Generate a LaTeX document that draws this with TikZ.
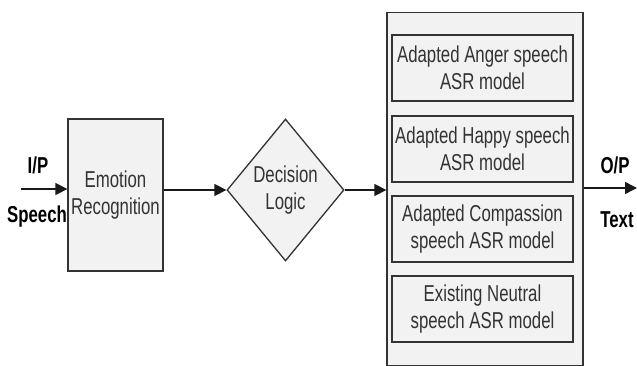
\documentclass[tikz,border=0pt]{standalone}
\usepackage{fontspec}
\setmainfont{Liberation Sans}[FakeStretch=0.73]
\usetikzlibrary{arrows.meta,shapes.geometric}
\definecolor{boxfill}{HTML}{F2F2F2}
\definecolor{edge}{HTML}{333333}
\tikzset{
  blockbox/.style={draw=edge,fill=boxfill,line width=1.3pt,inner sep=0pt,align=center,font=\fontsize{23}{27}\selectfont,text=black!80},
  modelbox/.style={blockbox,minimum width=181pt,minimum height=66pt},
  flow/.style={draw=black!90,line width=1.5pt,-{Triangle[length=12pt,width=12pt]}},
  iolabel/.style={font=\bfseries\fontsize{23}{24}\selectfont,inner sep=0pt}
}
\begin{document}
\begin{tikzpicture}[x=1pt,y=-1pt]
\useasboundingbox (0,0) rectangle (637,366);
\node[blockbox,minimum width=95pt,minimum height=152pt] (er) at (115.5,195) {Emotion\\Recognition};
\node[blockbox,diamond,minimum width=117pt,minimum height=142pt,aspect=0.82] (dl) at (285.5,190) {Decision\\Logic};
\node[blockbox,minimum width=196pt,minimum height=353pt] (big) at (485,189) {};
\node[modelbox] (m1) at (482.5,68) {Adapted Anger speech\\ASR model};
\node[modelbox] (m2) at (482.5,149) {Adapted Happy speech\\ASR model};
\node[modelbox] (m3) at (482.5,229) {Adapted Compassion\\speech ASR model};
\node[modelbox] (m4) at (482.5,309) {Existing Neutral\\speech ASR model};
\coordinate (in) at (21,189);
\coordinate (out) at (637,188);
\node[iolabel] (ip) at (38,165) {I/P};
\node[iolabel] (sp) at (37,217) {Speech};
\node[iolabel] (op) at (615,165) {O/P};
\node[iolabel] (tx) at (617,220) {Text};
\draw[flow] (in) -- (er.west |- in);
\draw[flow] (er.east |- dl.west) -- (dl.west);
\draw[flow] (dl.east) -- (big.west |- dl.east);
\draw[flow] (big.east |- out) -- (out);
\end{tikzpicture}
\end{document}
